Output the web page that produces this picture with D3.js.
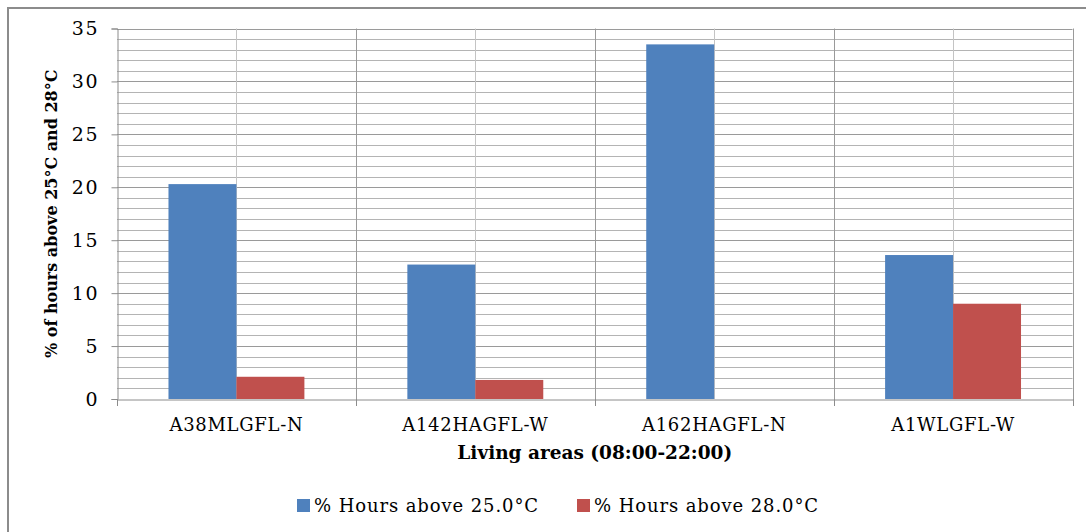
<!DOCTYPE html>
<html><head><meta charset="utf-8">
<script src="https://cdn.jsdelivr.net/npm/d3@7"></script>
<style>body{margin:0;background:#fff}svg{display:block}text{font-family:"DejaVu Serif",serif;fill:#000}</style>
</head><body>
<svg id="c" width="1086" height="532"></svg>
<script>
const categories = ["A38MLGFL-N","A142HAGFL-W","A162HAGFL-N","A1WLGFL-W"];
const seriesNames = ["% Hours above 25.0°C","% Hours above 28.0°C"];
const above25 = [20.3, 12.7, 33.5, 13.6];
const above28 = [2.1, 1.8, 0, 9.0];
const yTicks = [0,5,10,15,20,25,30,35];
const colors = ["#4f81bd","#c0504d"];
const xTitle = "Living areas (08:00-22:00)";
const yTitle = "% of hours above 25°C and 28°C";

const svg = d3.select("#c");
const L=117, R=1072.5, T=28.5, B=399;
// outer border
svg.append("path").attr("d","M8,532V8H1086").attr("fill","none").attr("stroke","#8c8c8c").attr("stroke-width",2);

const x = d3.scaleBand().domain(categories).range([L,R]).paddingInner(0).paddingOuter(0);
const y = d3.scaleLinear().domain([0,35]).range([B,T]);
const sub = d3.scaleBand().domain([0,1]).range([0,x.bandwidth()]).paddingInner(0).paddingOuter(0.7575);

const g = svg.append("g");
// minor horizontal grid
d3.range(1,36).forEach(v=>{
  g.append("line").attr("x1",L).attr("x2",R).attr("y1",Math.round(y(v))+0.5).attr("y2",Math.round(y(v))+0.5)
   .attr("stroke", v%5===0 ? "#9a9a9a" : "#b4b4b4").attr("stroke-width",1);
});
// vertical grid: category centers (lighter) and boundaries
categories.forEach(c=>{
  const cx = Math.round(x(c)+x.bandwidth()/2)+0.5;
  g.append("line").attr("x1",cx).attr("x2",cx).attr("y1",T).attr("y2",B).attr("stroke","#c4c4c4");
});
categories.slice(1).concat([null]).forEach((c,i)=>{
  const bx = Math.round(c===null ? R : x(c))+0.5;
  g.append("line").attr("x1",bx).attr("x2",bx).attr("y1",T).attr("y2",B).attr("stroke","#9a9a9a");
});

// bars
const series=[above25,above28];
series.forEach((vals,si)=>{
  svg.append("g").selectAll("rect").data(vals).join("rect")
    .attr("x",(d,i)=>x(categories[i])+sub(si))
    .attr("width",sub.bandwidth())
    .attr("y",d=>y(d)).attr("height",d=>B-y(d))
    .attr("fill",colors[si]);
});

// y axis
const ya = svg.append("g").attr("transform",`translate(${L+0.5},0)`)
  .call(d3.axisLeft(y).tickValues(yTicks).tickSize(6).tickPadding(12.5));
ya.select(".domain").attr("stroke","#8c8c8c");
ya.selectAll(".tick line").attr("stroke","#8c8c8c");
ya.selectAll(".tick text").style("font-family","DejaVu Serif").style("font-size","19px").attr("letter-spacing","1.5px").attr("fill","#000");

// x axis
const xa = svg.append("g").attr("transform",`translate(0,${B+0.5})`)
  .call(d3.axisBottom(x).tickSize(0).tickPadding(19));
xa.select(".domain").attr("stroke","#8c8c8c");
xa.selectAll(".tick text").style("font-family","DejaVu Serif").style("font-size","18px").attr("fill","#000").attr("letter-spacing","0.7px");
// category boundary ticks
[L].concat(categories.map(c=>x(c)+x.bandwidth())).forEach(bx=>{
  svg.append("line").attr("x1",Math.round(bx)+0.5).attr("x2",Math.round(bx)+0.5).attr("y1",B).attr("y2",B+7).attr("stroke","#8c8c8c");
});

// titles
svg.append("text").attr("x",(L+R)/2).attr("y",459).attr("text-anchor","middle")
  .style("font-weight","bold").style("font-size","18.5px").text(xTitle);
svg.append("text").attr("transform",`translate(57,${(T+B)/2}) rotate(-90)`).attr("text-anchor","middle")
  .style("font-weight","bold").style("font-size","16px").text(yTitle);

// legend
const lg = svg.append("g");
const legX=[297,577];
seriesNames.forEach((n,i)=>{
  lg.append("rect").attr("x",legX[i]).attr("y",499).attr("width",13).attr("height",13).attr("fill",colors[i]);
  lg.append("text").attr("x",legX[i]+17).attr("y",512).style("font-size","18px").attr("letter-spacing","0.9px").text(n);
});
</script>
</body></html>
